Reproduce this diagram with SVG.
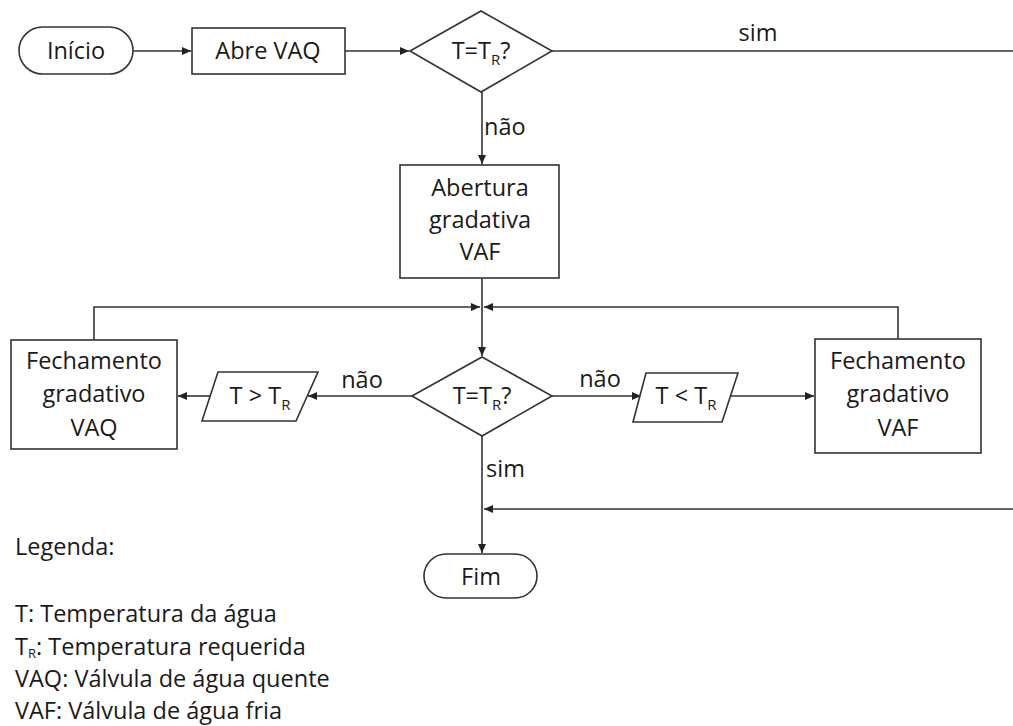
<svg xmlns="http://www.w3.org/2000/svg" width="1013" height="726" viewBox="0 0 1013 726">
<defs>
<style>
.s{fill:#fff;stroke:#333;stroke-width:1.6}
.t{font-family:"Open Sans","Liberation Sans",sans-serif;font-size:23.5px;fill:#1a1a1a}
.m{text-anchor:middle}
.c{fill:none;stroke:#333;stroke-width:1.6}
.a{marker-end:url(#ah)}
.sub{font-size:15px}
.lsub{font-size:13px}
</style>
<marker id="ah" markerUnits="userSpaceOnUse" markerWidth="9" markerHeight="8" refX="9" refY="4" orient="auto">
<path d="M0,0 L9,4 L0,8 z" fill="#222"/>
</marker>
</defs>
<rect width="1013" height="726" fill="#fff"/>
<g id="connectors">
<path class="c a" d="M133,51 H191"/>
<path class="c a" d="M345,51 H409"/>
<path class="c" d="M552,51 H1013"/>
<path class="c a" d="M482,92 V164"/>
<path class="c a" d="M482,278 V356"/>
<path class="c a" d="M94,340 V307 H480"/>
<path class="c a" d="M898,339 V307 H484"/>
<path class="c a" d="M412,396 H308"/>
<path class="c a" d="M210,396 H178"/>
<path class="c a" d="M552,396 H641"/>
<path class="c a" d="M729,396 H814"/>
<path class="c a" d="M482,436 V553"/>
<path class="c a" d="M1013,509 H484"/>
<text class="t m" x="758" y="41">sim</text>
<text class="t" x="484" y="135">não</text>
<text class="t m" x="362" y="388">não</text>
<text class="t m" x="600" y="387">não</text>
<text class="t" x="486" y="477">sim</text>
</g>
<g id="inicio">
<rect class="s" x="19" y="27" width="114" height="47" rx="23.5"/>
<text class="t m" x="76" y="59">Início</text>
</g>
<g id="abre-vaq">
<rect class="s" x="192" y="28" width="153" height="46"/>
<text class="t m" x="268" y="59">Abre VAQ</text>
</g>
<g id="decisao1">
<polygon class="s" points="410,51 481,11 552,51 481,92"/>
<text class="t m" x="481" y="59">T=T<tspan class="sub" dy="6">R</tspan><tspan dy="-6">?</tspan></text>
</g>
<g id="abertura-vaf">
<rect class="s" x="400" y="165" width="159" height="113"/>
<text class="t m" x="480" y="196">Abertura</text>
<text class="t m" x="480" y="228">gradativa</text>
<text class="t m" x="480" y="260">VAF</text>
</g>
<g id="decisao2">
<polygon class="s" points="412,396 482,357 552,396 482,436"/>
<text class="t m" x="482" y="404">T=T<tspan class="sub" dy="6">R</tspan><tspan dy="-6">?</tspan></text>
</g>
<g id="t-maior">
<polygon class="s" points="218,372 318,372 296,421 202,421"/>
<text class="t m" x="260" y="404">T &gt; T<tspan class="sub" dy="6">R</tspan></text>
</g>
<g id="t-menor">
<polygon class="s" points="646,373 738,373 722,422 633,422"/>
<text class="t m" x="686" y="404">T &lt; T<tspan class="sub" dy="6">R</tspan></text>
</g>
<g id="fechamento-vaq">
<rect class="s" x="11" y="340" width="166" height="109"/>
<text class="t m" x="94" y="369">Fechamento</text>
<text class="t m" x="94" y="402">gradativo</text>
<text class="t m" x="94" y="436">VAQ</text>
</g>
<g id="fechamento-vaf">
<rect class="s" x="815" y="339" width="166" height="114"/>
<text class="t m" x="898" y="369">Fechamento</text>
<text class="t m" x="898" y="402">gradativo</text>
<text class="t m" x="898" y="436">VAF</text>
</g>
<g id="fim">
<rect class="s" x="424" y="554" width="113" height="44" rx="22"/>
<text class="t m" x="481" y="585">Fim</text>
</g>
<g id="legenda">
<text class="t" x="15" y="555">Legenda:</text>
<text class="t" x="15" y="622">T: Temperatura da água</text>
<text class="t" x="15" y="655">T<tspan class="lsub" dy="3">R</tspan><tspan dy="-3">: Temperatura requerida</tspan></text>
<text class="t" x="15" y="687">VAQ: Válvula de água quente</text>
<text class="t" x="15" y="719">VAF: Válvula de água fria</text>
</g>
</svg>
